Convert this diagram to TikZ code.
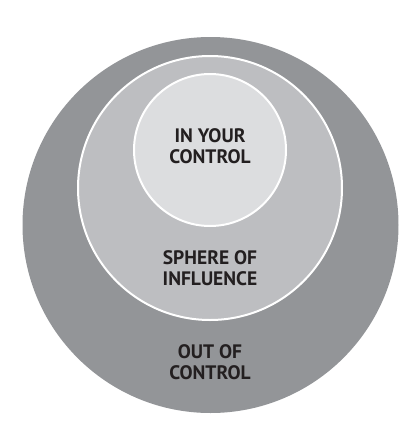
\documentclass[tikz,border=0pt]{standalone}
\usepackage{fontspec}
\setmainfont{PT Sans}
\definecolor{outerc}{HTML}{939598}
\definecolor{midc}{HTML}{BDBEC1}
\definecolor{innerc}{HTML}{DCDDDF}
\definecolor{txtc}{HTML}{231F20}
\begin{document}
\begin{tikzpicture}[x=1pt,y=-1pt,
  ring/.style={circle, inner sep=0pt, draw=white, line width=2pt},
  lbl/.style={align=center, inner sep=0pt, text=txtc,
    font=\fontsize{19.5}{21}\selectfont\bfseries}]
\useasboundingbox (0,0) rectangle (419,445);
\fill[white] (0,0) rectangle (419,445);
\node[circle, inner sep=0pt, fill=outerc, minimum size=376pt] (outer) at (210.5,225) {};
\node[ring, fill=midc, minimum size=264pt] (middle) at (210,188) {};
\node[ring, fill=innerc, minimum size=152pt] (inner) at (210,150) {};
\node[lbl] (t1) at (210,146) {IN YOUR\\CONTROL};
\node[lbl] (t2) at (210,268.5) {SPHERE OF\\INFLUENCE};
\node[lbl] (t3) at (210,362) {OUT OF\\CONTROL};
\end{tikzpicture}
\end{document}
